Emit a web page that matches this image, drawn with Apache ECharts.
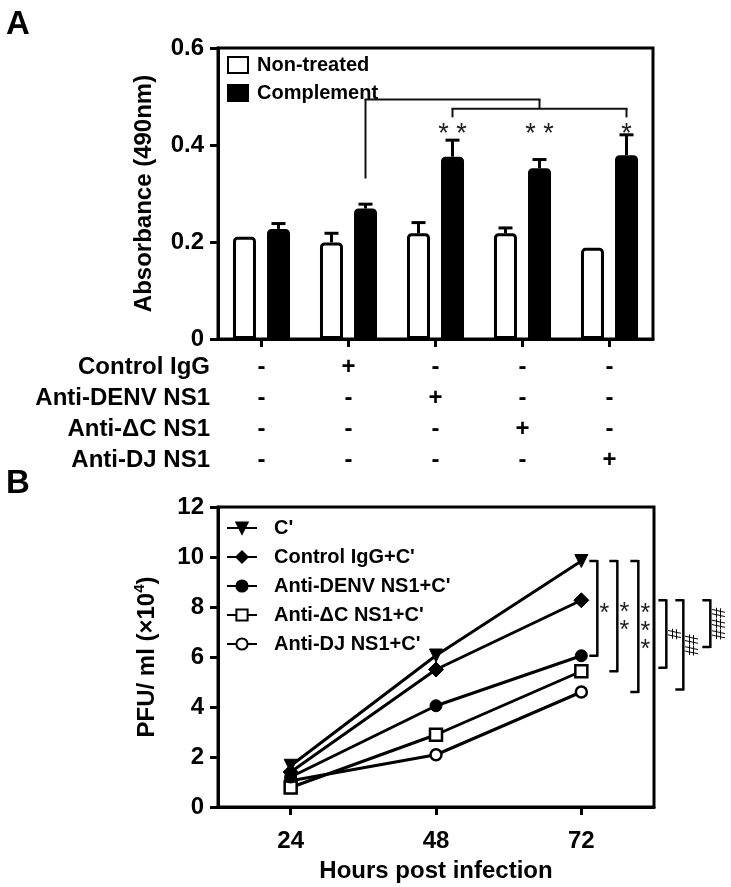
<!DOCTYPE html>
<html><head><meta charset="utf-8">
<script src="https://cdn.jsdelivr.net/npm/echarts@6/dist/echarts.min.js"></script>
<style>html,body{margin:0;padding:0;background:#fff}#c{width:731px;height:887px}</style>
</head><body><div id="c"></div>
<script>
const FONT = '"Liberation Sans", Arial, Helvetica, sans-serif';

// ---------- Panel A data ----------
const groupCategories = ['G1', 'G2', 'G3', 'G4', 'G5'];
const nonTreated = [0.211, 0.199, 0.218, 0.218, 0.188];
const nonTreatedErr = [0, 0.019, 0.022, 0.011, 0];
const complement = [0.227, 0.269, 0.376, 0.352, 0.379];
const complementErr = [0.011, 0.009, 0.034, 0.018, 0.042];
const yTicksA = [0, 0.2, 0.4, 0.6];
const legendA = ['Non-treated', 'Complement'];

// table under panel A
const tableRows = ['Control IgG', 'Anti-DENV NS1', 'Anti-\u0394C NS1', 'Anti-DJ NS1'];
const tableSigns = [
  ['-', '+', '-', '-', '-'],
  ['-', '-', '+', '-', '-'],
  ['-', '-', '-', '+', '-'],
  ['-', '-', '-', '-', '+']
];
// significance annotations of panel A (value levels)
const bracketA = { startGroup: 1, startLevel: 0.331, upperLevel: 0.494, lowerLevel: 0.475, endLevel: 0.457, joinGroup: 3, lowerFrom: 2, lowerTo: 4 };
const starsA = [{ group: 2, text: '* *' }, { group: 3, text: '* *' }, { group: 4, text: '*' }];
const starLevelA = 0.434;

// ---------- Panel B data ----------
const hours = [24, 48, 72];
const xTicksB = [24, 48, 72];
const seriesNamesB = ["C'", "Control IgG+C'", "Anti-DENV NS1+C'", "Anti-\u0394C NS1+C'", "Anti-DJ NS1+C'"];
const cPrime = [1.65, 6.06, 9.84];
const controlIgG = [1.4, 5.5, 8.27];
const antiDENV = [1.2, 4.05, 6.05];
const antiDeltaC = [0.78, 2.89, 5.43];
const antiDJ = [1.05, 2.09, 4.6];
const bracketsB = [
  { top: 9.84, bottom: 6.05, label: '*', kind: 'star' },
  { top: 9.84, bottom: 5.43, label: '*\n*', kind: 'star' },
  { top: 9.84, bottom: 4.6, label: '*\n*\n*', kind: 'star' },
  { top: 8.27, bottom: 5.57, label: '#', kind: 'hash' },
  { top: 8.27, bottom: 4.7, label: '##', kind: 'hash' },
  { top: 8.27, bottom: 6.4, label: '###', kind: 'hash' }
];

const chart = echarts.init(document.getElementById('c'));

const axisLbl = { color: '#000', fontFamily: FONT, fontWeight: 'bold', fontSize: 24 };
const nameStyle = { color: '#000', fontFamily: FONT, fontWeight: 'bold', fontSize: 24 };
const axLine = { show: true, lineStyle: { color: '#000', width: 3 } };
const axTick = { show: true, length: 8, inside: false, lineStyle: { color: '#000', width: 3 } };

function errRender(offset) {
  return function (params, api) {
    const i = api.value(0), v = api.value(1), e = api.value(2);
    if (!e) return null;
    const p0 = api.coord([i, v]);
    const p1 = api.coord([i, v + e]);
    const x = p0[0] + offset;
    return {
      type: 'group', children: [
        { type: 'line', shape: { x1: x, y1: p0[1], x2: x, y2: p1[1] }, style: { stroke: '#000', lineWidth: 3 } },
        { type: 'line', shape: { x1: x - 7, y1: p1[1], x2: x + 7, y2: p1[1] }, style: { stroke: '#000', lineWidth: 3 } }
      ]
    };
  };
}

const lineDefs = [
  { data: cPrime, symbol: 'triangle', rotate: 180, size: 13, fill: '#000' },
  { data: controlIgG, symbol: 'diamond', rotate: 0, size: 15, fill: '#000' },
  { data: antiDENV, symbol: 'circle', rotate: 0, size: 12, fill: '#000' },
  { data: antiDeltaC, symbol: 'rect', rotate: 0, size: 12, fill: '#fff' },
  { data: antiDJ, symbol: 'circle', rotate: 0, size: 11, fill: '#fff' }
];

const option = {
  animation: false,
  backgroundColor: '#fff',
  grid: [
    { left: 218, top: 48, width: 435, height: 291, show: true, borderColor: '#000', borderWidth: 3, backgroundColor: 'transparent', outerBoundsMode: 'none', containLabel: false },
    { left: 218, top: 507, width: 436, height: 300, show: true, borderColor: '#000', borderWidth: 3, backgroundColor: 'transparent', outerBoundsMode: 'none', containLabel: false }
  ],
  xAxis: [
    { type: 'category', gridIndex: 0, data: groupCategories, axisLine: axLine, axisTick: Object.assign({ alignWithLabel: true }, axTick), axisLabel: { show: false }, splitLine: { show: false } },
    { type: 'value', gridIndex: 1, min: 12, max: 84, interval: 12, axisLine: axLine,
      axisTick: Object.assign({ customValues: xTicksB }, axTick),
      axisLabel: Object.assign({ customValues: xTicksB, margin: 22 }, axisLbl),
      splitLine: { show: false },
      name: 'Hours post infection', nameLocation: 'middle', nameGap: 52, nameTextStyle: nameStyle }
  ],
  yAxis: [
    { type: 'value', gridIndex: 0, min: 0, max: 0.6, interval: 0.2, axisLine: axLine, axisTick: axTick,
      axisLabel: Object.assign({ margin: 14, formatter: v => (v === 0 ? '0' : v.toFixed(1)) }, axisLbl),
      splitLine: { show: false },
      name: 'Absorbance (490nm)', nameLocation: 'middle', nameGap: 62, nameRotate: 90, nameTextStyle: nameStyle },
    { type: 'value', gridIndex: 1, min: 0, max: 12, interval: 2, axisLine: axLine, axisTick: axTick,
      axisLabel: Object.assign({ margin: 14 }, axisLbl),
      splitLine: { show: false },
      name: 'PFU/ ml (\u00d710{s|4})', nameLocation: 'middle', nameGap: 56, nameRotate: 90,
      nameTextStyle: Object.assign({ rich: { s: { fontFamily: FONT, fontWeight: 'bold', fontSize: 15, color: '#000', verticalAlign: 'top', lineHeight: 30 } } }, nameStyle) }
  ],
  legend: [
    { data: legendA, orient: 'vertical', left: 227, top: 55, padding: 0, icon: 'rect', itemWidth: 20, itemHeight: 16, itemGap: 8,
      textStyle: { color: '#000', fontFamily: FONT, fontWeight: 'bold', fontSize: 20, padding: [0, 0, 0, 4] }, selectedMode: false },
    { data: seriesNamesB, orient: 'vertical', left: 226, top: 518, padding: 0, itemWidth: 30, itemHeight: 14, itemGap: 9,
      textStyle: { color: '#000', fontFamily: FONT, fontWeight: 'bold', fontSize: 20, padding: [0, 0, 0, 12] }, selectedMode: false }
  ],
  series: [
    { name: legendA[0], type: 'bar', xAxisIndex: 0, yAxisIndex: 0, data: nonTreated, barWidth: 23, barGap: '48%',
      itemStyle: { color: '#fff', borderColor: '#000', borderWidth: 3, borderRadius: [3, 3, 0, 0] } },
    { name: legendA[1], type: 'bar', xAxisIndex: 0, yAxisIndex: 0, data: complement, barWidth: 23, barGap: '48%',
      itemStyle: { color: '#000', borderColor: '#000', borderWidth: 3, borderRadius: [3, 3, 0, 0] } },
    { type: 'custom', xAxisIndex: 0, yAxisIndex: 0, renderItem: errRender(-17), encode: { x: 0, y: 1 }, z: 5,
      data: nonTreated.map((v, i) => [i, v, nonTreatedErr[i]]) },
    { type: 'custom', xAxisIndex: 0, yAxisIndex: 0, renderItem: errRender(17), encode: { x: 0, y: 1 }, z: 5,
      data: complement.map((v, i) => [i, v, complementErr[i]]) }
  ].concat(lineDefs.map((d, k) => ({
    name: seriesNamesB[k], type: 'line', xAxisIndex: 1, yAxisIndex: 1,
    data: hours.map((h, i) => [h, d.data[i]]),
    symbol: d.symbol, symbolRotate: d.rotate, symbolSize: d.size, showSymbol: true,
    lineStyle: { color: '#000', width: 3 },
    itemStyle: { color: d.fill, borderColor: '#000', borderWidth: d.fill === '#fff' ? 2.5 : 1 },
    z: 10 - k
  })))
};
chart.setOption(option);

// ---------- annotations computed from axes ----------
const g = [];
const pA = (i, v) => chart.convertToPixel({ gridIndex: 0 }, [i, v]);
const pB = (h, v) => chart.convertToPixel({ gridIndex: 1 }, [h, v]);
const BLACK_OFF = 17;
function seg(x1, y1, x2, y2, w, c) {
  g.push({ type: 'line', shape: { x1, y1, x2, y2 }, style: { stroke: c || '#111', lineWidth: w || 2 }, z: 100 });
}
function txt(x, y, text, font, align, valign, fill) {
  g.push({ type: 'text', x, y, z: 100,
    style: { text, font, fill: fill || '#000', textAlign: align, align: align, textVerticalAlign: valign, verticalAlign: valign } });
}

// panel labels
txt(6, 8, 'A', 'bold 33px ' + FONT, 'left', 'top');
txt(6, 467, 'B', 'bold 33px ' + FONT, 'left', 'top');

// bracket panel A
{
  const bx = i => pA(i, 0)[0] + BLACK_OFF;
  const y = v => pA(0, v)[1];
  seg(bx(bracketA.startGroup), y(bracketA.startLevel), bx(bracketA.startGroup), y(bracketA.upperLevel));
  seg(bx(bracketA.startGroup) - 1, y(bracketA.upperLevel), bx(bracketA.joinGroup) + 1, y(bracketA.upperLevel));
  seg(bx(bracketA.joinGroup), y(bracketA.upperLevel), bx(bracketA.joinGroup), y(bracketA.lowerLevel));
  seg(bx(bracketA.lowerFrom) - 1, y(bracketA.lowerLevel), bx(bracketA.lowerTo) + 1, y(bracketA.lowerLevel));
  seg(bx(bracketA.lowerFrom), y(bracketA.lowerLevel), bx(bracketA.lowerFrom), y(bracketA.endLevel));
  seg(bx(bracketA.lowerTo), y(bracketA.lowerLevel), bx(bracketA.lowerTo), y(bracketA.endLevel));
  starsA.forEach(s => {
    txt(bx(s.group), y(starLevelA) + 6, s.text, '27px ' + FONT, 'center', 'middle', '#222');
  });
}

// table under panel A
const rowY0 = 367, rowStep = 31;
tableRows.forEach((label, r) => {
  const yy = rowY0 + r * rowStep;
  txt(210, yy, label, 'bold 24px ' + FONT, 'right', 'middle');
  tableSigns[r].forEach((s, c) => {
    txt(pA(c, 0)[0], yy, s, 'bold 24px ' + FONT, 'center', 'middle');
  });
});

// brackets panel B
const bracketOffsets = [16, 36, 57, 85, 102, 129];
const x72 = pB(72, 0)[0];
bracketsB.forEach((b, k) => {
  const xl = x72 + bracketOffsets[k];
  const yt = pB(72, b.top)[1], yb = pB(72, b.bottom)[1];
  seg(xl - 8, yt, xl, yt, 2.5, '#000');
  seg(xl, yt - 1, xl, yb + 1, 2.5, '#000');
  seg(xl - 8, yb, xl, yb, 2.5, '#000');
  const ym = (yt + yb) / 2;
  if (b.kind === 'star') {
    g.push({ type: 'text', x: xl + 7, y: ym + 6, z: 100,
      style: { text: b.label, font: '25px ' + FONT, fill: '#222', textAlign: 'center', align: 'center', textVerticalAlign: 'middle', verticalAlign: 'middle', lineHeight: 18 } });
  } else {
    g.push({ type: 'text', x: xl + 9, y: ym, rotation: Math.PI / 2, z: 100,
      style: { text: b.label, font: '19px ' + FONT, fill: '#000', textAlign: 'center', align: 'center', textVerticalAlign: 'middle', verticalAlign: 'middle' } });
  }
});

chart.setOption({ graphic: { elements: g } });
</script>
</body></html>
